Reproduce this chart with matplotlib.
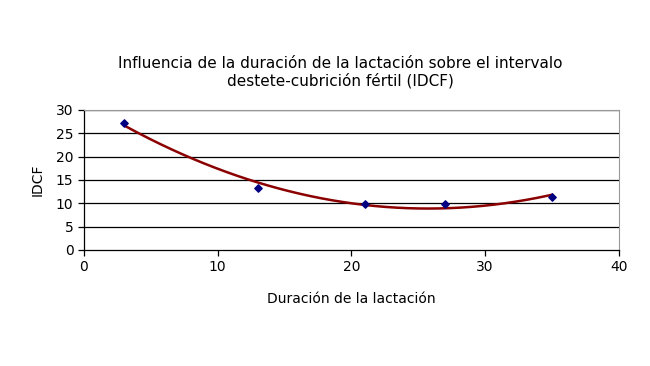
import numpy as np
import matplotlib
matplotlib.use('Agg')
import matplotlib.pyplot as plt

plt.rcParams['font.family'] = ['DejaVu Sans']

# Datos: duración de la lactación (días) vs IDCF
lactacion = [3, 13, 21, 27, 35]
idcf = [27.1, 13.3, 9.9, 9.9, 11.3]

x_ticks = [0, 10, 20, 30, 40]
y_ticks = [0, 5, 10, 15, 20, 25, 30]

# Línea de tendencia polinómica de orden 2 (como en Excel)
coef = np.polyfit(lactacion, idcf, 2)
xs = np.linspace(min(lactacion), max(lactacion), 200)

fig = plt.figure(figsize=(6.5, 3.66), dpi=100)
ax = fig.add_axes([0.129, 0.317, 0.823, 0.383])

for yv in y_ticks[1:]:
    ax.axhline(yv, color='black', lw=0.9, zorder=1)

ax.plot(xs, np.polyval(coef, xs), color='#8B0000', lw=1.8, zorder=2)
ax.scatter(lactacion, idcf, marker='D', s=14, color='#000080', zorder=3)

ax.set_xlim(0, 40)
ax.set_ylim(0, 30)
ax.set_xticks(x_ticks)
ax.set_yticks(y_ticks)
ax.tick_params(axis='both', labelsize=10, length=4, width=0.9, direction='out')

for side in ['top', 'right']:
    ax.spines[side].set_color('#999999')
for side in ['left', 'bottom']:
    ax.spines[side].set_color('black')
    ax.spines[side].set_linewidth(0.9)

ax.set_xlabel('Duración de la lactación', fontsize=10, labelpad=13)
ax.set_ylabel('IDCF', fontsize=10, labelpad=8)
fig.text(0.523, 0.802, 'Influencia de la duración de la lactación sobre el intervalo\n'
         'destete-cubrición fértil (IDCF)', ha='center', va='center', fontsize=11,
         linespacing=1.15)

plt.savefig('out.png', dpi=100)
plt.close()
